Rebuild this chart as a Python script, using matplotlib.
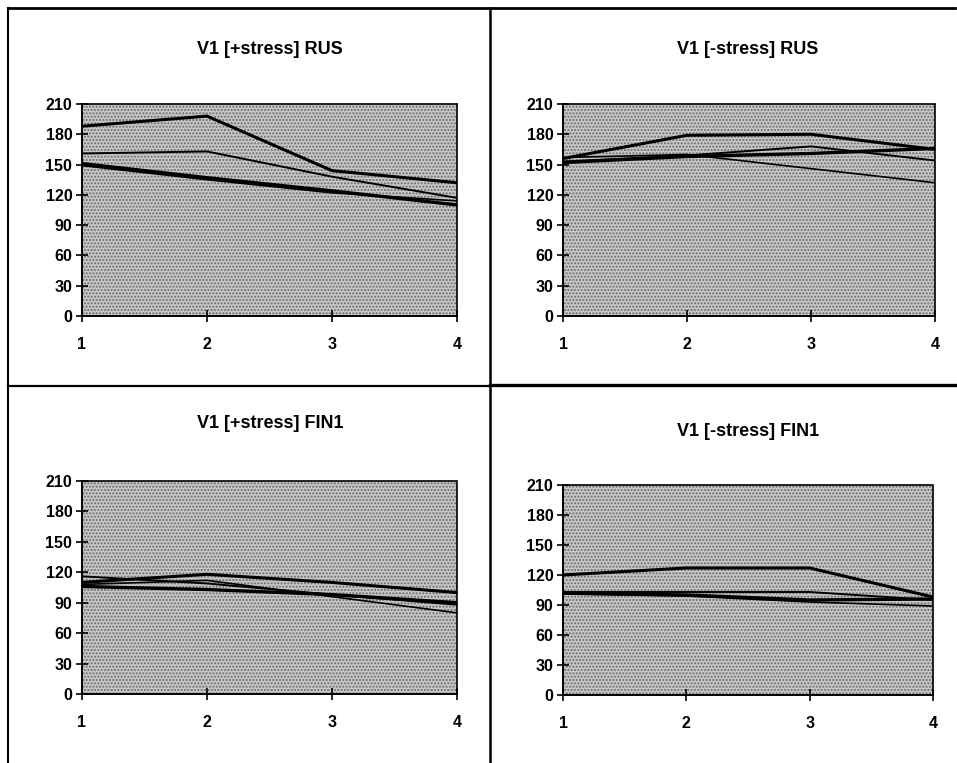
import matplotlib
matplotlib.use("Agg")
import matplotlib.pyplot as plt
from matplotlib.lines import Line2D

plt.rcParams['font.family'] = ['Liberation Sans', 'DejaVu Sans']

x = [1, 2, 3, 4]

# V1 [+stress] RUS
rus_pos_a = [188, 198, 144, 132]
rus_pos_b = [161, 163, 138, 117]
rus_pos_c = [151, 137, 124, 110]
rus_pos_d = [149, 135, 122, 114]

# V1 [-stress] RUS
rus_neg_a = [156, 179, 180, 165]
rus_neg_b = [153, 159, 168, 154]
rus_neg_c = [152, 158, 161, 166]
rus_neg_d = [157, 160, 146, 132]

# V1 [+stress] FIN1
fin_pos_a = [110, 118, 110, 100]
fin_pos_b = [116, 109, 98, 88]
fin_pos_c = [106, 103, 98, 90]
fin_pos_d = [108, 112, 96, 80]

# V1 [-stress] FIN1
fin_neg_a = [120, 127, 127, 98]
fin_neg_b = [103, 103, 103, 95]
fin_neg_c = [102, 100, 95, 96]
fin_neg_d = [101, 99, 93, 89]

yticks = [0, 30, 60, 90, 120, 150, 180, 210]

W, H = 957, 763
fig = plt.figure(figsize=(W / 100, H / 100), dpi=100)


def px_axes(x0, y0, x1, y1):
    return fig.add_axes([x0 / W, 1 - y1 / H, (x1 - x0) / W, (y1 - y0) / H])


panels = [
    ("V1 [+stress] RUS", (82, 104, 457, 316), (270, 50),
     [rus_pos_a, rus_pos_b, rus_pos_c, rus_pos_d]),
    ("V1 [-stress] RUS", (563, 104, 935, 316), (748, 50),
     [rus_neg_a, rus_neg_b, rus_neg_c, rus_neg_d]),
    ("V1 [+stress] FIN1", (82, 481, 457, 694), (270, 423),
     [fin_pos_a, fin_pos_b, fin_pos_c, fin_pos_d]),
    ("V1 [-stress] FIN1", (563, 485, 933, 695), (748, 432),
     [fin_neg_a, fin_neg_b, fin_neg_c, fin_neg_d]),
]
widths = [2.2, 1.4, 2.4, 1.2]

for title, box, tpos, series in panels:
    ax = px_axes(*box)
    ax.patch.set_facecolor('#c8c8c8')
    ax.patch.set_edgecolor('#6a6a6a')
    ax.patch.set_hatch('.....')
    ax.patch.set_linewidth(0)
    for s, lw in zip(series, widths):
        ax.plot(x, s, color='black', lw=lw, solid_joinstyle='round')
    ax.set_xlim(1, 4)
    ax.set_ylim(0, 210)
    ax.set_xticks(x)
    ax.set_yticks(yticks)
    ax.tick_params(direction='inout', length=8, width=1.2, labelsize=11.5,
                   pad=3, colors='black')
    ax.tick_params(axis='x', pad=11)
    for lab in ax.get_xticklabels() + ax.get_yticklabels():
        lab.set_fontweight('bold')
    for side in ['top', 'right']:
        ax.spines[side].set_linestyle((0, (1, 1)))
        ax.spines[side].set_linewidth(1.2)
    for side in ['left', 'bottom']:
        ax.spines[side].set_linewidth(1.4)
    fig.text(tpos[0] / W, 1 - tpos[1] / H, title, ha='center', va='center',
             fontsize=13, fontweight='bold')

# panel frame lines
frame = [((8, 955), (8, 8)), ((8, 8), (8, 763)), ((490, 490), (8, 763)),
         ((8, 490), (386, 386)), ((490, 957), (385, 385))]
for (xs, ys), lw in zip(frame, [2, 1.5, 1.8, 1.6, 2.4]):
    fig.add_artist(Line2D([v / W for v in xs], [1 - v / H for v in ys],
                          color='black', lw=lw))

fig.savefig('out.png', dpi=100)
